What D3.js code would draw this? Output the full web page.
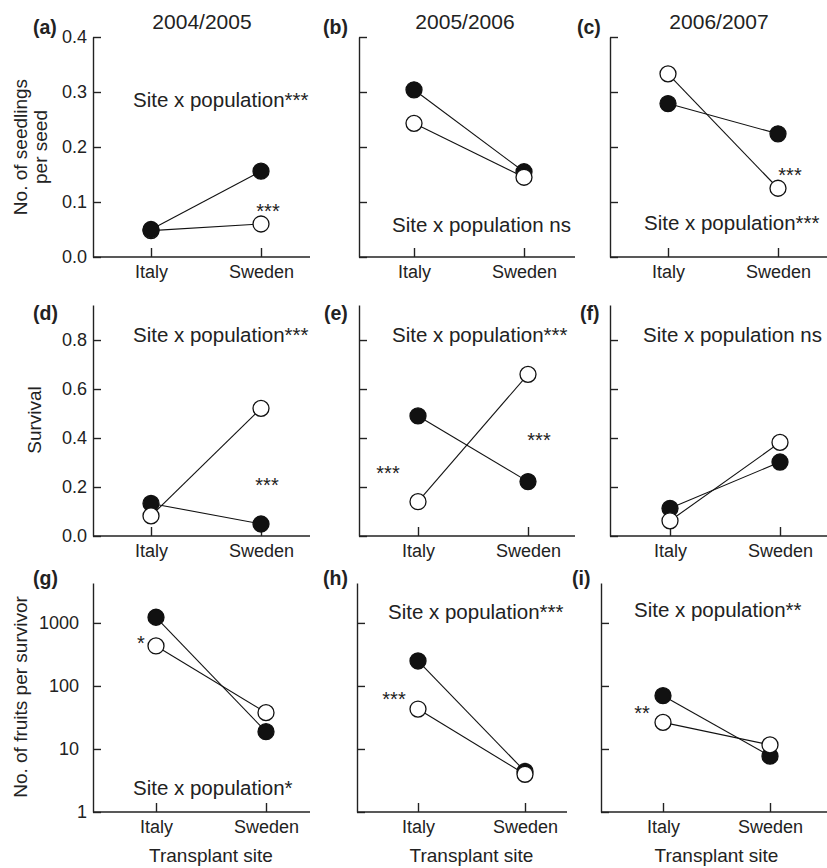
<!DOCTYPE html>
<html>
<head>
<meta charset="utf-8">
<script src="https://cdn.jsdelivr.net/npm/d3@7"></script>
<style>
  body { margin: 0; background: #ffffff; }
  svg text { font-family: "Liberation Sans", Arial, sans-serif; fill: #222222; }
</style>
</head>
<body>
<div id="chart"></div>
<script>
// sites / years
const sites = ["Italy", "Sweden"];
const years = ["2004/2005", "2005/2006", "2006/2007"];
const panelLetters = ["(a)", "(b)", "(c)", "(d)", "(e)", "(f)", "(g)", "(h)", "(i)"];

// values per year: [Italy, Sweden]
const seedlingsFilled = [[0.050, 0.156], [0.304, 0.155], [0.279, 0.224]];
const seedlingsOpen = [[0.048, 0.060], [0.243, 0.145], [0.333, 0.125]];
const survivalFilled = [[0.133, 0.049], [0.490, 0.222], [0.113, 0.302]];
const survivalOpen = [[0.082, 0.521], [0.140, 0.660], [0.062, 0.382]];
const fruitsFilled = [[1230, 18.8], [249, 4.4], [70, 7.7]];
const fruitsOpen = [[431, 37.7], [43, 3.97], [26.4, 11.6]];

const interactionLabels = [
    "Site x population***", "Site x population ns", "Site x population***",
    "Site x population***", "Site x population***", "Site x population ns",
    "Site x population*", "Site x population***", "Site x population**"
];

const seedTicks = [0, 0.1, 0.2, 0.3, 0.4];
const survTicks = [0, 0.2, 0.4, 0.6, 0.8];
const fruitTicks = [1, 10, 100, 1000];

// significance stars near points: panel, site, value
const stars = [
    { p: 0, site: "Sweden", v: 0.071, text: "***", dx: 7 },
    { p: 2, site: "Sweden", v: 0.136, text: "***", dx: 12 },
    { p: 3, site: "Sweden", v: 0.18, text: "***", dx: 6 },
    { p: 4, site: "Italy", v: 0.229, text: "***", dx: -30 },
    { p: 4, site: "Sweden", v: 0.363, text: "***", dx: 11 },
    { p: 6, site: "Italy", v: 373, text: "*", dx: -15 },
    { p: 7, site: "Italy", v: 48, text: "***", dx: -24 },
    { p: 8, site: "Italy", v: 29, text: "**", dx: -21 }
];

const W = 827, H = 868;
const svg = d3.select("#chart").append("svg").attr("width", W).attr("height", H);

// row geometry: axis top/bottom
const rows = [
    { top: 37, bottom: 257, domain: [0, 0.4], ticks: seedTicks, log: false, fmt: d3.format(".1f"),
      filled: seedlingsFilled, open: seedlingsOpen },
    { top: 305, bottom: 536, domain: [0, 0.943], ticks: survTicks, log: false, fmt: d3.format(".1f"),
      filled: survivalFilled, open: survivalOpen },
    { top: 583, bottom: 812, domain: [1, 4300], ticks: fruitTicks, log: true, fmt: d3.format("d"),
      filled: fruitsFilled, open: fruitsOpen }
];

// panel layout: y-axis x, x-axis end, Italy x, Sweden x, label pos
const layout = [
    { x0: 93, x1: 310, xi: 151, xs: 261, lx: 33, tx: 133, ty: 107 },
    { x0: 359, x1: 575, xi: 414, xs: 524, lx: 323, tx: 392, ty: 232 },
    { x0: 610, x1: 827, xi: 668, xs: 778, lx: 577, tx: 644, ty: 230 },
    { x0: 93, x1: 310, xi: 151, xs: 261, lx: 33, tx: 133, ty: 342 },
    { x0: 359, x1: 575, xi: 418, xs: 528, lx: 324, tx: 392, ty: 342 },
    { x0: 610, x1: 827, xi: 670, xs: 780, lx: 580, tx: 643, ty: 342 },
    { x0: 93, x1: 310, xi: 156, xs: 266, lx: 33, tx: 133, ty: 795 },
    { x0: 357, x1: 567, xi: 418, xs: 525, lx: 323, tx: 388, ty: 619 },
    { x0: 601, x1: 827, xi: 663, xs: 770, lx: 572, tx: 634, ty: 617 }
];
const labelBase = [34, 320, 585];

function fn_draw_panel(idx) {
    const r = Math.floor(idx / 3), c = idx % 3;
    const row = rows[r], lay = layout[idx];
    const g = svg.append("g").attr("transform", `translate(${lay.x0},0)`);

    const x = d3.scalePoint().domain(sites).range([lay.xi - lay.x0, lay.xs - lay.x0]);
    const y = (row.log ? d3.scaleLog() : d3.scaleLinear())
        .domain(row.domain).range([row.bottom, row.top]);

    // y axis, ticks pointing inward
    const yAx = g.append("g").call(d3.axisLeft(y).tickValues(row.ticks)
        .tickSizeInner(-8).tickSizeOuter(0).tickPadding(6)
        .tickFormat(c === 0 ? row.fmt : () => ""));
    yAx.select(".domain").attr("stroke", "#222").attr("stroke-width", 1.4);
    yAx.selectAll(".tick line").attr("stroke", "#222").attr("stroke-width", 1.4);
    yAx.selectAll(".tick text").attr("font-size", 18).attr("fill", "#222")
        .attr("font-family", "Liberation Sans, Arial, sans-serif")
        .attr("dx", d => (row.log && d > 1) ? -8 : 0);

    // x axis
    const xAx = g.append("g").attr("transform", `translate(0,${row.bottom})`)
        .call(d3.axisBottom(x).tickSizeInner(-9).tickSizeOuter(0).tickPadding(8));
    xAx.select(".domain").remove();
    xAx.selectAll(".tick line").attr("stroke", "#222").attr("stroke-width", 1.4);
    xAx.selectAll(".tick text").attr("font-size", 18).attr("fill", "#222")
        .attr("font-family", "Liberation Sans, Arial, sans-serif");
    g.append("line")
        .attr("x1", 0).attr("x2", lay.x1 - lay.x0)
        .attr("y1", row.bottom).attr("y2", row.bottom)
        .attr("stroke", "#222").attr("stroke-width", 1.4);

    // series
    const series = [
        { vals: row.filled[c], fill: "#111111" },
        { vals: row.open[c], fill: "#ffffff" }
    ];
    if (idx === 0) series.reverse();
    const line = d3.line().x((d, i) => x(sites[i])).y(d => y(d));
    series.forEach(s => {
        g.append("path").attr("d", line(s.vals))
            .attr("fill", "none").attr("stroke", "#111").attr("stroke-width", 1.1);
    });
    series.forEach(s => {
        g.selectAll(null).data(s.vals).enter().append("circle")
            .attr("cx", (d, i) => x(sites[i]))
            .attr("cy", d => y(d))
            .attr("r", 8)
            .attr("fill", s.fill)
            .attr("stroke", "#111")
            .attr("stroke-width", 1.3);
    });

    // stars
    stars.filter(s => s.p === idx).forEach(s => {
        g.append("text")
            .attr("x", x(s.site) + s.dx)
            .attr("y", y(s.v))
            .attr("text-anchor", "middle")
            .attr("font-size", 20)
            .text(s.text);
    });

    // interaction label
    svg.append("text")
        .attr("x", lay.tx).attr("y", lay.ty)
        .attr("font-size", 20.5)
        .text(interactionLabels[idx]);

    // panel letter
    svg.append("text")
        .attr("x", lay.lx).attr("y", labelBase[r])
        .attr("font-size", 19.5).attr("font-weight", "bold")
        .text(panelLetters[idx]);

    if (r === 0) {
        svg.append("text")
            .attr("x", (lay.xi + lay.xs) / 2 - 4).attr("y", 29)
            .attr("text-anchor", "middle").attr("font-size", 21)
            .text(years[c]);
    }
    if (r === 2) {
        svg.append("text")
            .attr("x", (lay.xi + lay.xs) / 2).attr("y", 862)
            .attr("text-anchor", "middle").attr("font-size", 19)
            .text("Transplant site");
    }
}

d3.range(9).forEach(fn_draw_panel);

// y axis titles
function fn_ytitle(lines, xs, cy) {
    lines.forEach((t, i) => {
        svg.append("text")
            .attr("transform", `translate(${xs[i]},${cy}) rotate(-90)`)
            .attr("text-anchor", "middle").attr("font-size", 19)
            .text(t);
    });
}
fn_ytitle(["No. of seedlings", "per seed"], [27, 47], 147);
fn_ytitle(["Survival"], [41], 420);
fn_ytitle(["No. of fruits per survivor"], [27], 697);
</script>
</body>
</html>
